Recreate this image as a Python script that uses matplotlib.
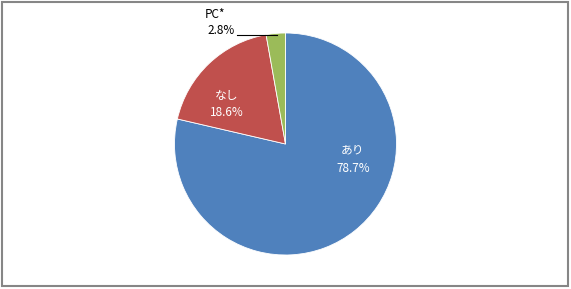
import matplotlib
matplotlib.use("Agg")
import matplotlib.pyplot as plt
from matplotlib.patches import Rectangle

plt.rcParams['font.family'] = ['Noto Sans CJK JP', 'DejaVu Sans']

# data
labels = ["あり", "なし", "PC*"]
values = [78.7, 18.6, 2.8]
colors = ["#4F81BD", "#C0504D", "#9BBB59"]

W, H = 571, 289
fig = plt.figure(figsize=(W / 100, H / 100), dpi=100)
ax = fig.add_axes([0, 0, 1, 1])
ax.set_xlim(0, W)
ax.set_ylim(0, H)
ax.set_aspect('equal')
ax.axis('off')

# outer frame
ax.add_patch(Rectangle((1.5, 3), W - 4.5, H - 4.5, fill=False,
                       edgecolor="#868686", linewidth=1.5))

# pie, clockwise from top
cx, cy, r = 285.5, H - 144, 111
ax.pie(values, colors=colors, startangle=90, counterclock=False,
       center=(cx, cy), radius=r, frame=True,
       wedgeprops=dict(edgecolor="white", linewidth=0.6))
ax.set_xlim(0, W)
ax.set_ylim(0, H)
ax.axis('off')

fs = 8.5
# inside labels
ax.text(353, H - 150, labels[0], color="white", fontsize=fs, ha="center", va="center")
ax.text(353, H - 169, f"{values[0]}%", color="white", fontsize=fs, ha="center", va="center")
ax.text(227, H - 95, labels[1], color="white", fontsize=fs, ha="center", va="center")
ax.text(227, H - 113, f"{values[1]}%", color="white", fontsize=fs, ha="center", va="center")

# outside label with leader line
ax.text(215, H - 14, labels[2], color="black", fontsize=fs, ha="center", va="center")
ax.text(221, H - 30, f"{values[2]}%", color="black", fontsize=fs, ha="center", va="center")
ax.plot([237, 277], [H - 35, H - 35], color="black", linewidth=0.8)

fig.savefig("out.png", dpi=100)
